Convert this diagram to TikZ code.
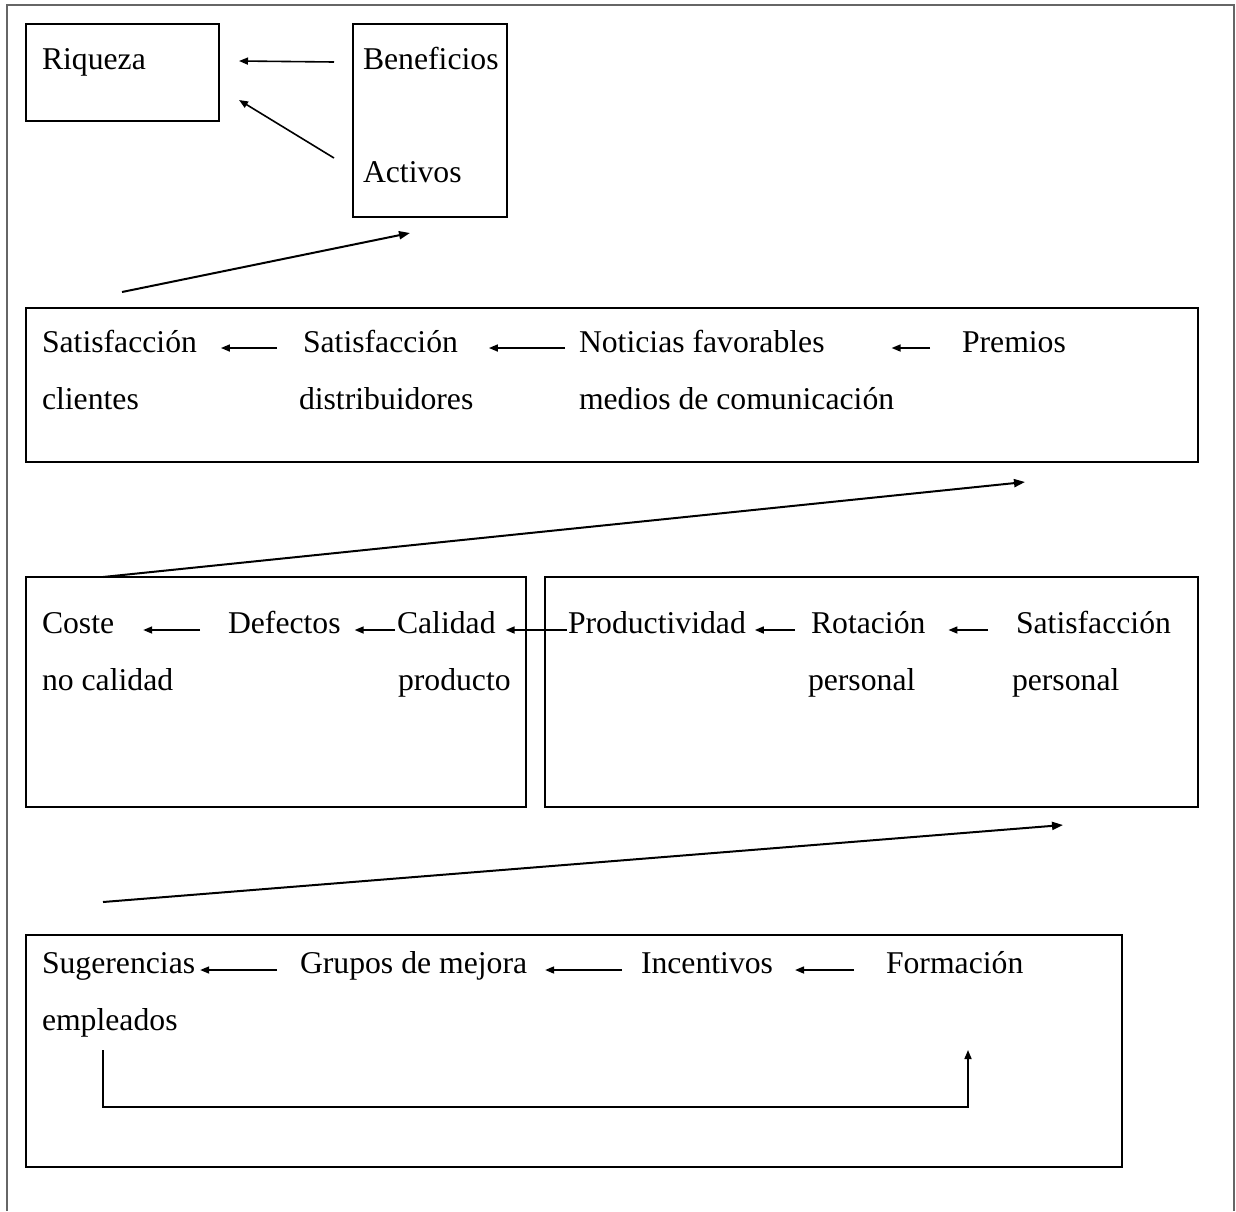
\documentclass[tikz,border=0pt]{standalone}
\usepackage{fontspec}
\setmainfont{Liberation Serif}
\usetikzlibrary{arrows.meta}
\begin{document}
\begin{tikzpicture}[x=1pt,y=-1pt,
  txt/.style={inner sep=0pt,outer sep=0pt,anchor=base west,
    font=\fontsize{31.7pt}{38pt}\selectfont},
  box/.style={draw,line width=2pt,inner sep=0pt,outer sep=0pt,anchor=north west},
  arr/.style={line width=1.6pt,-{Triangle[length=9pt,width=7pt]}},
  bigarr/.style={line width=2pt,-{Triangle[length=11pt,width=8pt]}},
  frame/.style={draw=black!60,line width=1.6pt}]
\useasboundingbox (0,0) rectangle (1236,1211);
\draw[frame] (7,1211) -- (7,5) -- (1234,5) -- (1234,1211);

% top level: wealth
\node[box,minimum width=193pt,minimum height=97pt] (rqbox) at (26,24) {};
\node[box,minimum width=154pt,minimum height=193pt] (babox) at (353,24) {};
\node[txt] (rq) at (42,69) {Riqueza};
\node[txt] (ben) at (363,69) {Beneficios};
\node[txt] (act) at (363,182) {Activos};
\draw[arr] ([xshift=-29pt,yshift=7pt]ben.base west) -- ([xshift=20pt,yshift=-37pt]rqbox.north east);
\draw[arr] ([xshift=-29pt,yshift=24pt]act.base west) -- ([xshift=20pt,yshift=-76pt]rqbox.north east);

% customers
\node[box,minimum width=1172pt,minimum height=154pt] (b2) at (26,308) {};
\node[txt] (s1) at (42,352) {Satisfacción};
\node[txt] at (42,409) {clientes};
\node[txt] (s2) at (303,352) {Satisfacción};
\node[txt] at (299,409) {distribuidores};
\node[txt] (not) at (579,352) {Noticias favorables};
\node[txt] at (579,409) {medios de comunicación};
\node[txt] (prem) at (962,352) {Premios};
\draw[arr] ([xshift=-26pt,yshift=4pt]s2.base west) -- ([xshift=24pt,yshift=4pt]s1.base east);
\draw[arr] ([xshift=-14pt,yshift=4pt]not.base west) -- ([xshift=31pt,yshift=4pt]s2.base east);
\draw[arr] ([xshift=-32pt,yshift=4pt]prem.base west) -- ([xshift=67pt,yshift=4pt]not.base east);
\draw[bigarr] ([xshift=96pt,yshift=16pt]b2.north west) -- ([xshift=57pt,yshift=-16pt]babox.south west);

% quality and staff
\node[box,minimum width=500pt,minimum height=230pt] (b3) at (26,577) {};
\node[box,minimum width=653pt,minimum height=230pt] (b4) at (545,577) {};
\node[txt] (cos) at (42,633) {Coste};
\node[txt] at (42,690) {no calidad};
\node[txt] (def) at (228,633) {Defectos};
\node[txt] (cal) at (397,633) {Calidad};
\node[txt] at (398,690) {producto};
\node[txt] (prod) at (568,633) {Productividad};
\node[txt] (rot) at (811,633) {Rotación};
\node[txt] at (808,690) {personal};
\node[txt] (sp) at (1016,633) {Satisfacción};
\node[txt] at (1012,690) {personal};
\draw[arr] ([xshift=-28pt,yshift=3pt]def.base west) -- ([xshift=29pt,yshift=3pt]cos.base east);
\draw[arr] ([xshift=-2pt,yshift=3pt]cal.base west) -- ([xshift=14pt,yshift=3pt]def.base east);
\draw[arr] ([xshift=-1pt,yshift=3pt]prod.base west) -- ([xshift=10pt,yshift=3pt]cal.base east);
\draw[arr] ([xshift=-16pt,yshift=3pt]rot.base west) -- ([xshift=9pt,yshift=3pt]prod.base east);
\draw[arr] ([xshift=-28pt,yshift=3pt]sp.base west) -- ([xshift=23pt,yshift=3pt]rot.base east);
\draw[bigarr] ([xshift=77pt]b3.north west) -- ([xshift=-173pt,yshift=-20pt]b2.south east);

% improvement actions
\node[box,minimum width=1096pt,minimum height=232pt] (b5) at (26,935) {};
\node[txt] (sug) at (42,973) {Sugerencias};
\node[txt] (emp) at (42,1030) {empleados};
\node[txt] (grp) at (300,973) {Grupos de mejora};
\node[txt] (inc) at (641,973) {Incentivos};
\node[txt] (for) at (886,973) {Formación};
\draw[arr] ([xshift=-23pt,yshift=3pt]grp.base west) -- ([xshift=5pt,yshift=3pt]sug.base east);
\draw[arr] ([xshift=-19pt,yshift=3pt]inc.base west) -- ([xshift=18pt,yshift=3pt]grp.base east);
\draw[arr] ([xshift=-32pt,yshift=3pt]for.base west) -- ([xshift=22pt,yshift=3pt]inc.base east);
\draw[arr] ([xshift=61pt,yshift=-20pt]emp.base west) -- ++(0,57) -| ([xshift=82pt,yshift=-77pt]for.base west);
\draw[bigarr] ([xshift=77pt,yshift=33pt]b5.north west) -- ([xshift=-135pt,yshift=-18pt]b4.south east);
\end{tikzpicture}
\end{document}
